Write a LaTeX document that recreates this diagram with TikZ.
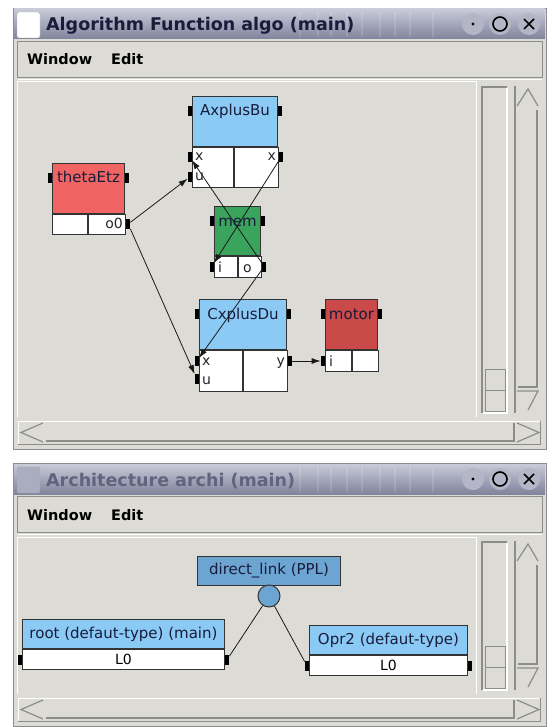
\documentclass[tikz,border=0pt]{standalone}
\usepackage{fontspec}
\setmainfont{DejaVu Sans}
\usetikzlibrary{calc,arrows.meta}
\definecolor{winbg}{RGB}{221,219,214}
\definecolor{winedge}{RGB}{140,140,140}
\definecolor{sbdark}{RGB}{140,140,136}
\definecolor{barlight}{RGB}{200,202,216}
\definecolor{barmid}{RGB}{160,163,186}
\definecolor{bardark}{RGB}{128,132,156}
\definecolor{btnfill}{RGB}{180,182,200}
\definecolor{titlefg}{RGB}{26,28,60}
\definecolor{titlefade}{RGB}{96,100,126}
\definecolor{iconfade}{RGB}{170,172,192}
\definecolor{txt}{RGB}{24,28,58}
\definecolor{hdrred}{RGB}{240,100,100}
\definecolor{hdrblue}{RGB}{140,202,246}
\definecolor{hdrgreen}{RGB}{58,163,92}
\definecolor{hdrdark}{RGB}{202,74,74}
\definecolor{linkblue}{RGB}{108,164,210}
\newcommand{\wintitle}{\fontsize{17.5}{20}\selectfont\bfseries}
\newcommand{\winmenu}{\fontsize{14.5}{17}\selectfont\bfseries}
\newcommand{\blkfont}{\fontsize{15}{18}\selectfont}
\newcommand{\pinfont}{\fontsize{14}{17}\selectfont}
\tikzset{
  >={Latex[length=9pt,width=6pt]},
  hdr/.style={draw=black!80, line width=1pt, anchor=north west, inner sep=0pt, font=\blkfont, text=txt},
  cell/.style={draw=black!80, line width=1pt, fill=white, anchor=north west, inner sep=0pt},
  port/.style={fill=black, minimum width=4pt, minimum height=10pt, inner sep=0pt},
  blkname/.style={font=\blkfont, text=txt, anchor=base, inner sep=0pt},
  pin/.style={font=\pinfont, text=black!85, inner sep=0pt},
  wire/.style={line width=0.8pt, black!90},
}

\begin{document}
\begin{tikzpicture}[x=1pt,y=-1pt]
\useasboundingbox (0,0) rectangle (551,727);
\fill[white] (0,0) rectangle (551,727);

% the two windows: frame, title bar, menu, scroll bars
\foreach \t/\b/\ttl/\tc/\ic in {8/450/Algorithm Function algo (main)/titlefg/white, 463/727/Architecture archi (main)/titlefade/iconfade}{
  \draw[winedge, fill=winbg] (13,\t) rectangle (546,{\b-0.5});
  \shade[top color=barlight, middle color=barmid, bottom color=bardark] (14,{\t+1}) rectangle (545,{\t+31});
  \foreach \s in {300,318,331,347,362,380,395,410,433}
    \draw[white, opacity=0.12, line width=1.5pt] (\s,{\t+4}) -- (\s,{\t+29});
  \draw[gray!70, fill=\ic, rounded corners=2pt] (17,{\t+4}) rectangle (40,{\t+30});
  \node[anchor=base west, font=\wintitle, text=\tc, inner sep=0pt] (title\t) at (46,{\t+23}) {\ttl};
  \foreach \bx in {473,500,529}
    \fill[btnfill] (\bx,{\t+16}) circle (11pt);
  \fill[black] (473,{\t+16}) circle (1.6pt);
  \draw[black, line width=1.6pt] (500,{\t+16}) circle (7pt);
  \draw[black, line width=1.6pt] (524,{\t+11}) -- (534,{\t+21}) (524,{\t+21}) -- (534,{\t+11});
  % menu
  \draw[sbdark] (17,{\t+33}) rectangle (542,{\t+69});
  \draw[white] (18,{\t+71}) -- (542,{\t+71});
  \node[anchor=base west, font=\winmenu, inner sep=0pt] (menuw\t) at (27,{\t+57}) {Window};
  \node[anchor=base west, font=\winmenu, inner sep=0pt] (menue\t) at (111,{\t+57}) {Edit};
  \draw[white, line width=1pt] (17,{\b-33}) -- (17,{\t+74}) -- (476,{\t+74}) -- (476,{\b-33});
  % vertical scroll bar
  \draw[sbdark, line width=1.5pt] (482,{\b-37}) -- (482,{\t+79}) -- (507,{\t+79});
  \draw[white, line width=1.5pt] (507,{\t+80}) -- (507,{\b-37}) -- (483,{\b-37});
  \draw[sbdark, fill=winbg] (485,{\b-81}) rectangle (505,{\b-39});
  \draw[sbdark] (485,{\b-60}) -- (505,{\b-60});
  \draw[sbdark, line width=1.5pt] (515,{\t+78}) -- (515,{\b-37});
  \draw[sbdark, line width=1.2pt] (517,{\t+98}) -- (528,{\t+81}) -- (538,{\t+98});
  \draw[sbdark, line width=1.5pt] (537,{\t+102}) -- (537,{\b-63}) -- (518,{\b-63});
  \draw[sbdark, line width=1.2pt] (517,{\b-59}) -- (538,{\b-59}) -- (528,{\b-40});
  % horizontal scroll bar
  \draw[white, line width=1pt] (18,{\b-6}) -- (18,{\b-29}) -- (540,{\b-29});
  \draw[sbdark, line width=1pt] (540,{\b-29}) -- (540,{\b-6}) -- (18,{\b-6});
  \draw[sbdark, line width=1.2pt] (43,{\b-27}) -- (21,{\b-17.5}) -- (43,{\b-8});
  \draw[sbdark, line width=1.5pt] (46,{\b-9}) -- (514,{\b-9}) -- (514,{\b-27});
  \draw[sbdark, line width=1.2pt] (517,{\b-27}) -- (539,{\b-17.5}) -- (517,{\b-8});
}

% algorithm blocks
\node[hdr, fill=hdrred, minimum width=72pt, minimum height=50pt] (theta) at (52,163) {};
\node[blkname] (thetaN) at ($(theta.north)+(0,20)$) {thetaEtz};
\node[cell, minimum width=35pt, minimum height=20pt] (thetaL) at (theta.south west) {};
\node[cell, minimum width=37pt, minimum height=20pt] (thetaR) at (thetaL.north east) {};
\node[pin, anchor=base east] (thetaT) at ($(thetaR.north east)+(-3,15)$) {o0};
\node[port, anchor=west] (thetaO) at ($(thetaR.north east)+(0,10)$) {};

\node[hdr, fill=hdrblue, minimum width=85pt, minimum height=50pt] (axb) at (192,96) {};
\node[blkname] (axbN) at ($(axb.north)+(0,20)$) {AxplusBu};
\node[cell, minimum width=41pt, minimum height=40pt] (axbL) at (axb.south west) {};
\node[cell, minimum width=44pt, minimum height=40pt] (axbR) at (axbL.north east) {};
\node[pin, anchor=base west] (axbT1) at ($(axbL.north west)+(3,14)$) {x};
\node[pin, anchor=base west] (axbT2) at ($(axbL.north west)+(3,34)$) {u};
\node[pin, anchor=base east] (axbT3) at ($(axbR.north east)+(-3,14)$) {x};
\node[port, anchor=east] (axbX) at ($(axbL.north west)+(0,10)$) {};
\node[port, anchor=east] (axbU) at ($(axbL.north west)+(0,30)$) {};
\node[port, anchor=west] (axbY) at ($(axbR.north east)+(0,10)$) {};

\node[hdr, fill=hdrgreen, minimum width=46pt, minimum height=49pt] (mem) at (214,206) {};
\node[blkname] (memN) at ($(mem.north)+(0,20)$) {mem};
\node[cell, minimum width=23pt, minimum height=21pt] (memL) at (mem.south west) {};
\node[cell, minimum width=23pt, minimum height=21pt] (memR) at (memL.north east) {};
\node[pin, anchor=base west] (memT1) at ($(memL.north west)+(4,16)$) {i};
\node[pin, anchor=base west] (memT2) at ($(memR.north west)+(5,16)$) {o};
\node[port, anchor=east] (memI) at ($(memL.north west)+(0,10.5)$) {};
\node[port, anchor=west] (memO) at ($(memR.north east)+(0,10.5)$) {};

\node[hdr, fill=hdrblue, minimum width=87pt, minimum height=50pt] (cxd) at (199,299) {};
\node[blkname] (cxdN) at ($(cxd.north)+(0,20)$) {CxplusDu};
\node[cell, minimum width=43pt, minimum height=41pt] (cxdL) at (cxd.south west) {};
\node[cell, minimum width=44pt, minimum height=41pt] (cxdR) at (cxdL.north east) {};
\node[pin, anchor=base west] (cxdT1) at ($(cxdL.north west)+(3,15)$) {x};
\node[pin, anchor=base west] (cxdT2) at ($(cxdL.north west)+(3,34)$) {u};
\node[pin, anchor=base east] (cxdT3) at ($(cxdR.north east)+(-3,15)$) {y};
\node[port, anchor=east] (cxdX) at ($(cxdL.north west)+(0,11)$) {};
\node[port, anchor=east] (cxdU) at ($(cxdL.north west)+(0,29)$) {};
\node[port, anchor=west] (cxdY) at ($(cxdR.north east)+(0,11)$) {};

\node[hdr, fill=hdrdark, minimum width=52pt, minimum height=50pt] (motor) at (325,299) {};
\node[blkname] (motorN) at ($(motor.north)+(0,20)$) {motor};
\node[cell, minimum width=26pt, minimum height=21pt] (motorL) at (motor.south west) {};
\node[cell, minimum width=26pt, minimum height=21pt] (motorR) at (motorL.north east) {};
\node[pin, anchor=base west] (motorT) at ($(motorL.north west)+(4,16)$) {i};
\node[port, anchor=east] (motorI) at ($(motorL.north west)+(0,11)$) {};

% side ports of the block headers
\foreach \b in {theta,axb,mem,cxd,motor}{
  \node[port, anchor=east] (\b-hl) at ($(\b.north west)+(0,15)$) {};
  \node[port, anchor=west] (\b-hr) at ($(\b.north east)+(0,15)$) {};
}

% data links
\draw[wire,->] (thetaO) -- (axbU);
\draw[wire,->] (thetaO) -- (cxdU);
\draw[wire,->] (axbY) -- (memI);
\draw[wire,->] (memO) -- (axbX);
\draw[wire,->] (memO) -- (cxdX);
\draw[wire,->] (cxdY) -- (motorI);

% architecture
\node[hdr, fill=linkblue, minimum width=143pt, minimum height=29pt] (link) at (197,556) {direct\_link (PPL)};
\node[circle, draw=black!80, line width=1pt, fill=linkblue, minimum size=22pt, inner sep=0pt] (hub) at (269,596) {};

\node[hdr, fill=hdrblue, minimum width=202pt, minimum height=29pt] (root) at (22,619) {root (defaut-type) (main)};
\node[cell, minimum width=202pt, minimum height=20pt, font=\pinfont] (rootL) at (root.south west) {L0};
\node[port, anchor=east] (rootP1) at (rootL.west) {};
\node[port, anchor=west] (rootP2) at (rootL.east) {};

\node[hdr, fill=hdrblue, minimum width=158pt, minimum height=29pt] (opr) at (309,625) {Opr2 (defaut-type)};
\node[cell, minimum width=158pt, minimum height=20pt, font=\pinfont] (oprL) at (opr.south west) {L0};
\node[port, anchor=east] (oprP1) at (oprL.west) {};
\node[port, anchor=west] (oprP2) at (oprL.east) {};

\draw[wire] (hub) -- (rootP2);
\draw[wire] (hub) -- (oprP1);
\end{tikzpicture}
\end{document}
